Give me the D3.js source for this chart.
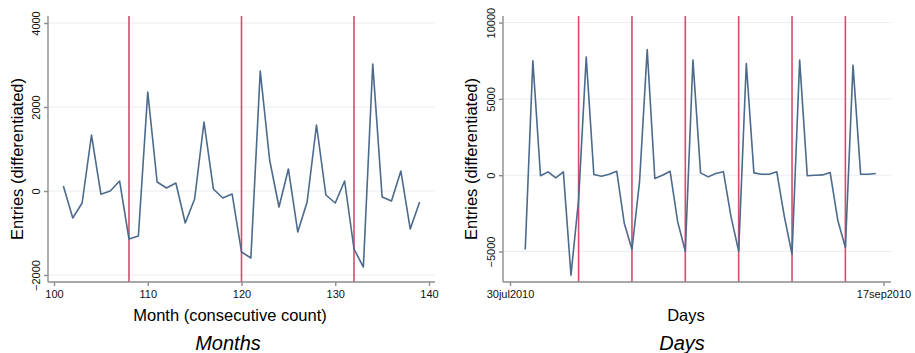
<!DOCTYPE html>
<html>
<head>
<meta charset="utf-8">
<script src="https://cdn.jsdelivr.net/npm/d3@7"></script>
<style>
body { margin:0; background:#fff; }
svg { display:block; font-family:"Liberation Sans", Arial, Helvetica, sans-serif; }
.grid line { stroke:#e8eef2; stroke-width:1; }
.axis line, .axis-line { stroke:#8c8c8c; stroke-width:1.4; }
.axis text { font-size:11px; fill:#111; }
.series { fill:none; stroke:#4c6a8b; stroke-width:1.6; stroke-linejoin:round; }
.break { stroke:#d84a6e; stroke-width:1.6; }
.title { font-size:16.5px; fill:#000; }
.caption { font-size:20px; font-style:italic; fill:#000; }
</style>
</head>
<body>
<svg width="915" height="353"></svg>
<script>
// left panel: monthly entries
const months = [101,102,103,104,105,106,107,108,109,110,111,112,113,114,115,116,117,118,119,120,
    121,122,123,124,125,126,127,128,129,130,131,132,133,134,135,136,137,138,139]
const monthEntries = [119,-643,-286,1333,-75,0,238,-1143,-1071,2357,214,71,190,-762,-190,1643,48,-167,-71,-1452,
    -1595,2857,738,-381,524,-976,-262,1571,-95,-286,238,-1381,-1810,3024,-143,-238,476,-905,-262]
const monthBreaks = [108,120,132]
const monthTicksX = [100,110,120,130,140]
const monthTicksY = [-2000,0,2000,4000]

// right panel: daily entries
const days = ["2010-08-01","2010-08-02","2010-08-03","2010-08-04","2010-08-05","2010-08-06","2010-08-07",
    "2010-08-08","2010-08-09","2010-08-10","2010-08-11","2010-08-12","2010-08-13","2010-08-14",
    "2010-08-15","2010-08-16","2010-08-17","2010-08-18","2010-08-19","2010-08-20","2010-08-21",
    "2010-08-22","2010-08-23","2010-08-24","2010-08-25","2010-08-26","2010-08-27","2010-08-28",
    "2010-08-29","2010-08-30","2010-08-31","2010-09-01","2010-09-02","2010-09-03","2010-09-04",
    "2010-09-05","2010-09-06","2010-09-07","2010-09-08","2010-09-09","2010-09-10","2010-09-11",
    "2010-09-12","2010-09-13","2010-09-14","2010-09-15","2010-09-16"]
const dayEntries = [-4870,7490,-40,220,-170,220,-6550,
    -1600,7750,40,-70,60,260,-3170,
    -4870,-400,8240,-220,0,260,-3060,
    -4980,7540,150,-110,110,220,-2730,
    -4980,7320,150,66,66,220,-2730,
    -5180,7540,-40,0,20,180,-2950,
    -4740,7210,66,66,110]
const dayBreaks = ["2010-08-08","2010-08-15","2010-08-22","2010-08-29","2010-09-05","2010-09-12"]
const dayTicksX = ["2010-07-30","2010-09-17"]
const dayTicksY = [-5000,0,5000,10000]

const svg = d3.select("svg")
const parseDay = d3.utcParse("%Y-%m-%d")
const formatDay = d3.utcFormat("%d%b%Y")

const xM = d3.scaleLinear().domain([100,140]).range([54,429])
const yM = d3.scaleLinear().domain([-2000,4000]).range([275,23])
const xD = d3.scaleUtc().domain([parseDay("2010-07-30"),parseDay("2010-09-17")]).range([510,883.5])
const yD = d3.scaleLinear().domain([-5000,10000]).range([251.5,22.6])

const panels = [
    {x:xM, y:yM, box:{l:48,r:435,t:16,b:282}, xs:months, ys:monthEntries, breaks:monthBreaks,
        ticksX:monthTicksX, ticksY:monthTicksY, fmtX:d=>d, yTitleX:23, center:230,
        xTitle:"Month (consecutive count)", caption:"Months", capCenter:228},
    {x:xD, y:yD, box:{l:503,r:891,t:16,b:282}, xs:days.map(parseDay), ys:dayEntries,
        breaks:dayBreaks.map(parseDay), ticksX:dayTicksX.map(parseDay), ticksY:dayTicksY,
        fmtX:d=>formatDay(d).toLowerCase(), yTitleX:477, center:686,
        xTitle:"Days", caption:"Days", capCenter:682}
]

panels.forEach(p => {
    const g = svg.append("g")
    const box = p.box

    g.append("g")
        .attr("class","grid")
        .selectAll("line")
        .data(p.ticksY)
        .enter()
        .append("line")
        .attr("x1",box.l)
        .attr("x2",box.r)
        .attr("y1",d=>p.y(d))
        .attr("y2",d=>p.y(d))

    g.selectAll("line.break")
        .data(p.breaks)
        .enter()
        .append("line")
        .attr("class","break")
        .attr("x1",d=>p.x(d))
        .attr("x2",d=>p.x(d))
        .attr("y1",box.t)
        .attr("y2",box.b)

    const line = d3.line()
        .x((d,i)=>p.x(p.xs[i]))
        .y(d=>p.y(d))

    g.append("path")
        .datum(p.ys)
        .attr("class","series")
        .attr("d",line)

    const yAxis = g.append("g")
        .attr("class","axis")
        .attr("transform",`translate(${box.l},0)`)
        .call(d3.axisLeft(p.y).tickValues(p.ticksY).tickFormat(d3.format("d")).tickSize(4).tickSizeOuter(0))
    yAxis.select(".domain").remove()
    yAxis.selectAll("text")
        .attr("x",0)
        .attr("y",-8)
        .attr("dy",0)
        .attr("text-anchor","middle")
        .attr("transform","rotate(-90)")

    const xAxis = g.append("g")
        .attr("class","axis")
        .attr("transform",`translate(0,${box.b})`)
        .call(d3.axisBottom(p.x).tickValues(p.ticksX).tickFormat(p.fmtX).tickSize(4).tickSizeOuter(0))
    xAxis.select(".domain").remove()
    xAxis.selectAll("text").attr("y",8).attr("dy","0.71em")

    g.append("line")
        .attr("class","axis-line")
        .attr("x1",box.l).attr("x2",box.l)
        .attr("y1",box.t).attr("y2",box.b)
    g.append("line")
        .attr("class","axis-line")
        .attr("x1",box.l).attr("x2",box.r)
        .attr("y1",box.b).attr("y2",box.b)

    g.append("text")
        .attr("class","title")
        .attr("text-anchor","middle")
        .attr("transform",`translate(${p.yTitleX},159) rotate(-90)`)
        .text("Entries (differentiated)")

    g.append("text")
        .attr("class","title")
        .attr("text-anchor","middle")
        .attr("x",p.center)
        .attr("y",321)
        .text(p.xTitle)

    g.append("text")
        .attr("class","caption")
        .attr("text-anchor","middle")
        .attr("x",p.capCenter)
        .attr("y",350)
        .text(p.caption)
})
</script>
</body>
</html>
